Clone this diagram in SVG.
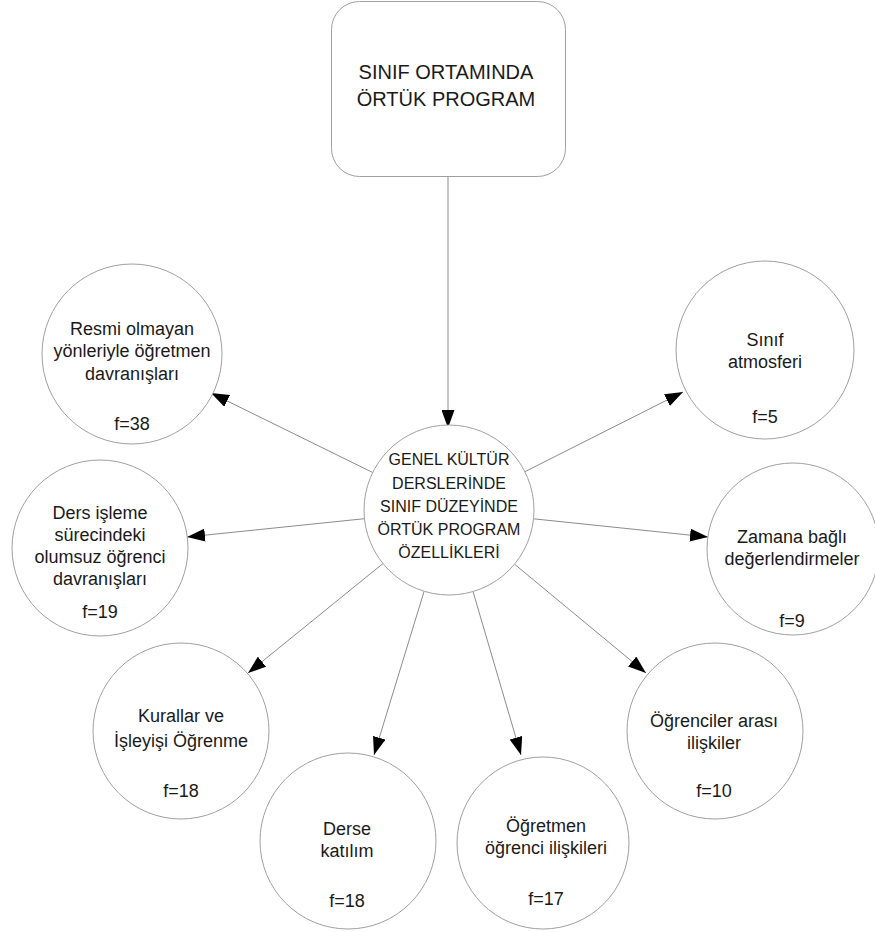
<svg xmlns="http://www.w3.org/2000/svg" width="875" height="932" viewBox="0 0 875 932">
<defs>
<marker id="arr" markerUnits="userSpaceOnUse" viewBox="0 0 18 13" refX="18" refY="6.5" markerWidth="18" markerHeight="13" orient="auto">
<path d="M0,0 L18,6.5 L0,13 z" fill="#000"/>
</marker>
<style>
.shape{fill:#fff;stroke:#a0a0a0;stroke-width:1}
.lbl{font-family:"Liberation Sans",Arial,sans-serif;font-size:18px;fill:#1a1a1a;text-anchor:middle}
.big{font-size:20px}
.mid{font-size:16px}
.conn{stroke:#8c8c8c;stroke-width:1;fill:none;marker-end:url(#arr)}
</style>
</defs>
<rect width="875" height="932" fill="#fff"/>
<g id="connectors">
<line class="conn" x1="448" y1="177" x2="448" y2="428"/>
<line class="conn" x1="372.7" y1="472.5" x2="211" y2="393"/>
<line class="conn" x1="524.9" y1="471.7" x2="683" y2="392"/>
<line class="conn" x1="364.5" y1="518.7" x2="187" y2="537"/>
<line class="conn" x1="533.5" y1="518.8" x2="708" y2="537"/>
<line class="conn" x1="383" y1="563.5" x2="248" y2="673"/>
<line class="conn" x1="424.1" y1="591.3" x2="374" y2="755"/>
<line class="conn" x1="473" y1="591.5" x2="521" y2="755"/>
<line class="conn" x1="514.5" y1="564.2" x2="646" y2="673"/>
</g>
<g id="root">
<rect class="shape" x="331.5" y="1.5" width="234" height="175" rx="28" ry="28"/>
<text class="lbl big" x="446" y="79">SINIF ORTAMINDA</text>
<text class="lbl big" x="446" y="106">ÖRTÜK PROGRAM</text>
</g>
<g id="center">
<circle class="shape" cx="449" cy="510" r="85"/>
<text class="lbl mid" x="449" y="465">GENEL KÜLTÜR</text>
<text class="lbl mid" x="449" y="489">DERSLERİNDE</text>
<text class="lbl mid" x="449" y="512">SINIF DÜZEYİNDE</text>
<text class="lbl mid" x="449" y="535">ÖRTÜK PROGRAM</text>
<text class="lbl mid" x="449" y="558">ÖZELLİKLERİ</text>
</g>
<g id="resmi">
<circle class="shape" cx="132" cy="354" r="90"/>
<text class="lbl" x="132" y="335">Resmi olmayan</text>
<text class="lbl" x="132" y="357">yönleriyle öğretmen</text>
<text class="lbl" x="132" y="380">davranışları</text>
<text class="lbl" x="132" y="430">f=38</text>
</g>
<g id="sinif">
<circle class="shape" cx="765" cy="350" r="89"/>
<text class="lbl" x="765" y="346">Sınıf</text>
<text class="lbl" x="765" y="368">atmosferi</text>
<text class="lbl" x="765" y="423">f=5</text>
</g>
<g id="ders">
<circle class="shape" cx="100" cy="548" r="88"/>
<text class="lbl" x="100" y="519">Ders işleme</text>
<text class="lbl" x="100" y="541">sürecindeki</text>
<text class="lbl" x="100" y="563">olumsuz öğrenci</text>
<text class="lbl" x="100" y="585">davranışları</text>
<text class="lbl" x="100" y="618">f=19</text>
</g>
<g id="zamana">
<circle class="shape" cx="793" cy="549" r="86"/>
<text class="lbl" x="792" y="543">Zamana bağlı</text>
<text class="lbl" x="792" y="565">değerlendirmeler</text>
<text class="lbl" x="792" y="627">f=9</text>
</g>
<g id="kurallar">
<circle class="shape" cx="181" cy="731" r="88"/>
<text class="lbl" x="181" y="722">Kurallar ve</text>
<text class="lbl" x="181" y="747">İşleyişi Öğrenme</text>
<text class="lbl" x="181" y="797">f=18</text>
</g>
<g id="derse">
<circle class="shape" cx="348" cy="841" r="88"/>
<text class="lbl" x="347" y="835">Derse</text>
<text class="lbl" x="347" y="857">katılım</text>
<text class="lbl" x="347" y="907">f=18</text>
</g>
<g id="ogretmen">
<circle class="shape" cx="543" cy="843" r="86"/>
<text class="lbl" x="546" y="832">Öğretmen</text>
<text class="lbl" x="546" y="854">öğrenci ilişkileri</text>
<text class="lbl" x="546" y="905">f=17</text>
</g>
<g id="ogrenciler">
<circle class="shape" cx="715" cy="731" r="88"/>
<text class="lbl" x="714" y="727">Öğrenciler arası</text>
<text class="lbl" x="714" y="749">ilişkiler</text>
<text class="lbl" x="714" y="797">f=10</text>
</g>
</svg>
